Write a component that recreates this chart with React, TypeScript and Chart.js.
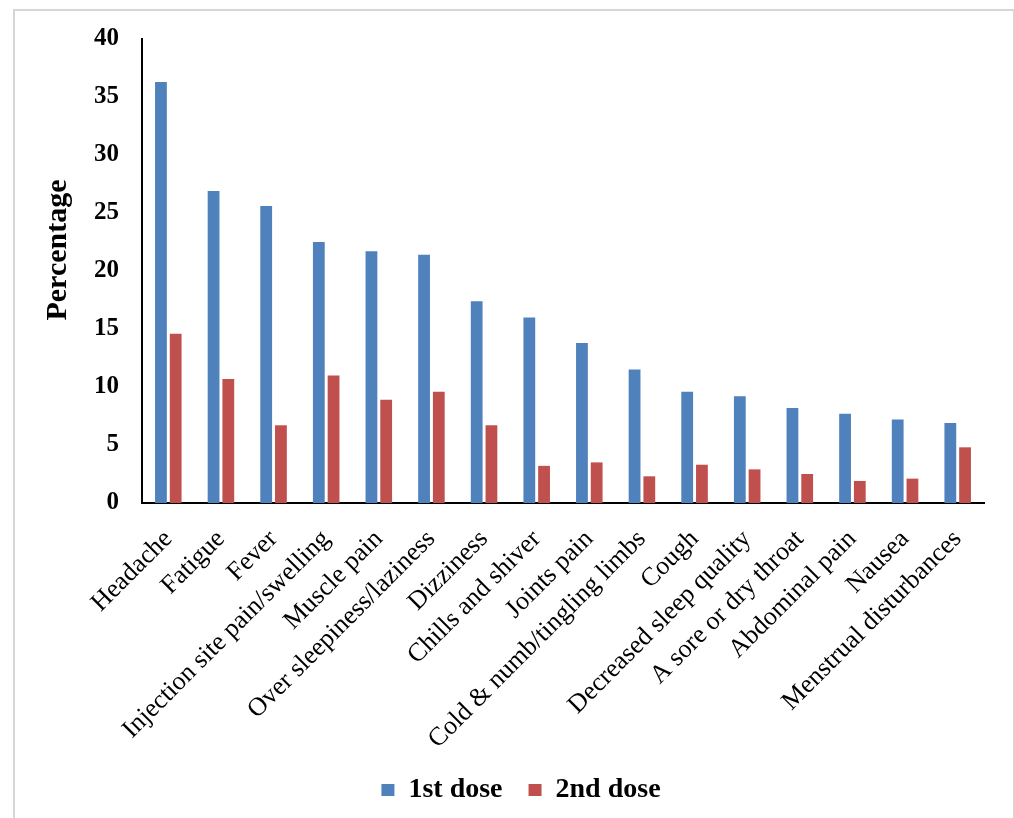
import React, { useEffect, useRef } from "react";
import { Chart, registerables } from "chart.js";

Chart.register(...registerables);

const categories = [
  "Headache",
  "Fatigue",
  "Fever",
  "Injection site pain/swelling",
  "Muscle pain",
  "Over sleepiness/laziness",
  "Dizziness",
  "Chills and shiver",
  "Joints pain",
  "Cold & numb/tingling limbs",
  "Cough",
  "Decreased sleep quality",
  "A sore or dry throat",
  "Abdominal pain",
  "Nausea",
  "Menstrual disturbances",
];

const firstDose = [36.3, 26.9, 25.6, 22.5, 21.7, 21.4, 17.4, 16.0, 13.8, 11.5, 9.6, 9.2, 8.2, 7.7, 7.2, 6.9];
const secondDose = [14.6, 10.7, 6.7, 11.0, 8.9, 9.6, 6.7, 3.2, 3.5, 2.3, 3.3, 2.9, 2.5, 1.9, 2.1, 4.8];

const seriesNames = ["1st dose", "2nd dose"];
const yTitle = "Percentage";
const yMin = 0;
const yMax = 40;
const yStep = 5;

const FONT = "'Liberation Serif', 'Times New Roman', serif";
const W = 1014;
const H = 818;
const AXIS_LEFT = 142;
const AXIS_BOTTOM = 503;

const layoutPlugin = {
  id: "layoutTweaks",
  afterLayout(chart: any) {
    const lg = chart.legend;
    if (lg) {
      const dx = 9;
      const dy = -4;
      lg.left += dx;
      lg.right += dx;
      lg.top += dy;
      lg.bottom += dy;
    }
  },
  afterDraw(chart: any) {
    const ctx = chart.ctx;
    ctx.save();
    ctx.translate(58, 250);
    ctx.rotate(-Math.PI / 2);
    ctx.textAlign = "center";
    ctx.textBaseline = "middle";
    ctx.fillStyle = "#000";
    ctx.font = `bold 30px ${FONT}`;
    ctx.fillText(yTitle, 0, 0);
    ctx.restore();
  },
};

export default function App() {
  const ref = useRef<HTMLCanvasElement | null>(null);

  useEffect(() => {
    if (!ref.current) return;
    const chart = new Chart(ref.current, {
      type: "bar",
      data: {
        labels: categories,
        datasets: [
          {
            label: seriesNames[0],
            data: firstDose,
            backgroundColor: "#4F81BD",
            borderWidth: 0,
            categoryPercentage: 0.56,
            barPercentage: 0.8,
          },
          {
            label: seriesNames[1],
            data: secondDose,
            backgroundColor: "#C0504D",
            borderWidth: 0,
            categoryPercentage: 0.56,
            barPercentage: 0.8,
          },
        ],
      },
      options: {
        responsive: false,
        animation: false,
        layout: { padding: { left: 40, right: W - 984, top: 39, bottom: 0 } },
        plugins: {
          legend: {
            position: "bottom",
            labels: {
              color: "#000",
              font: { family: FONT, size: 28, weight: "bold" },
              boxWidth: 13,
              boxHeight: 12,
              padding: 26,
            },
          },
          tooltip: { enabled: false },
          title: { display: false },
        },
        scales: {
          x: {
            grid: { display: false, drawTicks: false },
            border: { display: true, color: "#000", width: 2 },
            ticks: {
              color: "#000",
              font: { family: FONT, size: 26 },
              maxRotation: 45,
              minRotation: 45,
              autoSkip: false,
              padding: 21,
            },
            afterFit(scale: any) {
              const lh = scale.chart.legend ? scale.chart.legend.height : 0;
              scale.height = H - AXIS_BOTTOM - lh;
            },
          },
          y: {
            min: yMin,
            max: yMax,
            grid: { display: false, drawTicks: false },
            border: { display: true, color: "#000", width: 2 },
            ticks: {
              stepSize: yStep,
              color: "#000",
              font: { family: FONT, size: 25, weight: "bold" },
              padding: 23,
            },
            afterFit(scale: any) {
              scale.width = AXIS_LEFT - 40;
            },
          },
        },
      },
      plugins: [layoutPlugin],
    });
    return () => chart.destroy();
  }, []);

  return (
    <div style={{ position: "fixed", left: 0, top: 0, width: W, height: H, background: "#fff" }}>
      <div
        style={{
          position: "absolute",
          left: 13,
          top: 9,
          width: 998,
          height: H,
          borderLeft: "2px solid #d6d6d6",
          borderTop: "2px solid #d6d6d6",
          borderRight: "2px solid #d6d6d6",
        }}
      />
      <canvas ref={ref} width={W} height={H} style={{ position: "absolute", left: 0, top: 0 }} />
    </div>
  );
}
